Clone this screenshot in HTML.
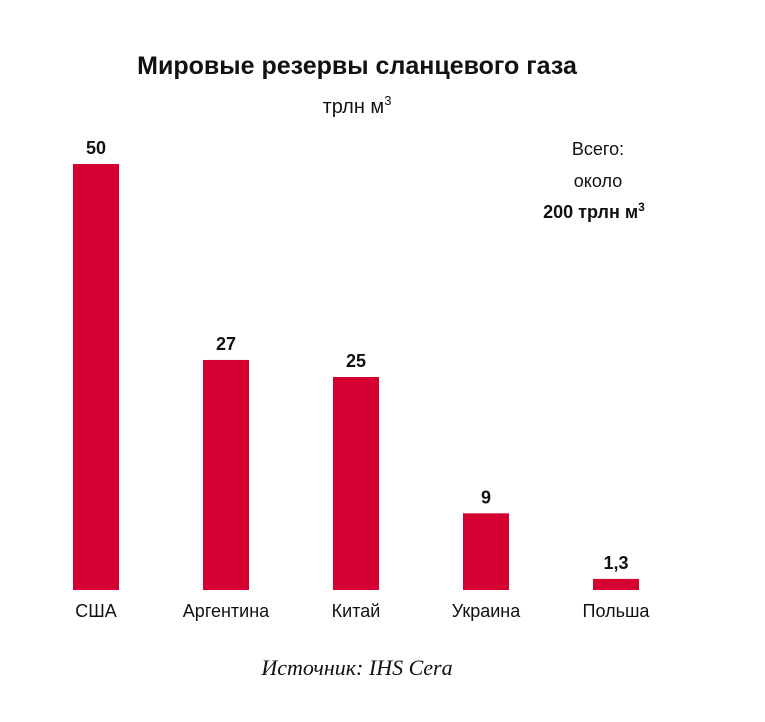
<!DOCTYPE html>
<html><head><meta charset="utf-8"><style>
body{margin:0;background:#fff;}
svg{display:block;font-family:"Liberation Sans",sans-serif;}
</style></head><body>
<svg id="chart" width="765" height="722">
<text x="357" y="74" text-anchor="middle" font-size="25" font-weight="bold" fill="#111">Мировые резервы сланцевого газа</text>
<text x="357" y="113" text-anchor="middle" font-size="20" fill="#111">трлн м<tspan font-size="13" dy="-8">3</tspan></text>
<text x="598" y="155" text-anchor="middle" font-size="18" fill="#111">Всего:</text>
<text x="598" y="187" text-anchor="middle" font-size="18" fill="#111">около</text>
<text x="594" y="218" text-anchor="middle" font-size="18" font-weight="bold" fill="#111">200 трлн м<tspan font-size="12" dy="-7">3</tspan></text>
<g id="bars"></g>
<text x="357" y="675" text-anchor="middle" font-size="22" font-style="italic" font-family="Liberation Serif, serif" fill="#111">Источник: IHS Cera</text>
</svg>
<script>
const categories=["США","Аргентина","Китай","Украина","Польша"];
const values=[50,27,25,9,1.3];
const valueLabels=["50","27","25","9","1,3"];
const baseY=590, scale=426/50;
const xc=i=>96+i*130;
const y=v=>baseY-v*scale;
const g=document.getElementById('bars');
const NS="http://www.w3.org/2000/svg";
values.forEach((v,i)=>{
 const r=document.createElementNS(NS,'rect');
 r.setAttribute('x',xc(i)-23);r.setAttribute('y',y(v));
 r.setAttribute('width',46);r.setAttribute('height',baseY-y(v));
 r.setAttribute('fill','#d50032');
 
 
 g.appendChild(r);
 const t=document.createElementNS(NS,'text');
 t.setAttribute('x',xc(i));t.setAttribute('y',y(v)-10);
 t.setAttribute('text-anchor','middle');t.setAttribute('font-size','18');
 t.setAttribute('font-weight','bold');t.setAttribute('fill','#111');
 t.textContent=valueLabels[i];
 
 
 g.appendChild(t);
 const c=document.createElementNS(NS,'text');
 c.setAttribute('x',xc(i));c.setAttribute('y',617);
 c.setAttribute('text-anchor','middle');c.setAttribute('font-size','18');
 c.setAttribute('fill','#111');
 c.textContent=categories[i];
 
 
 g.appendChild(c);
});
</script>
</body></html>
